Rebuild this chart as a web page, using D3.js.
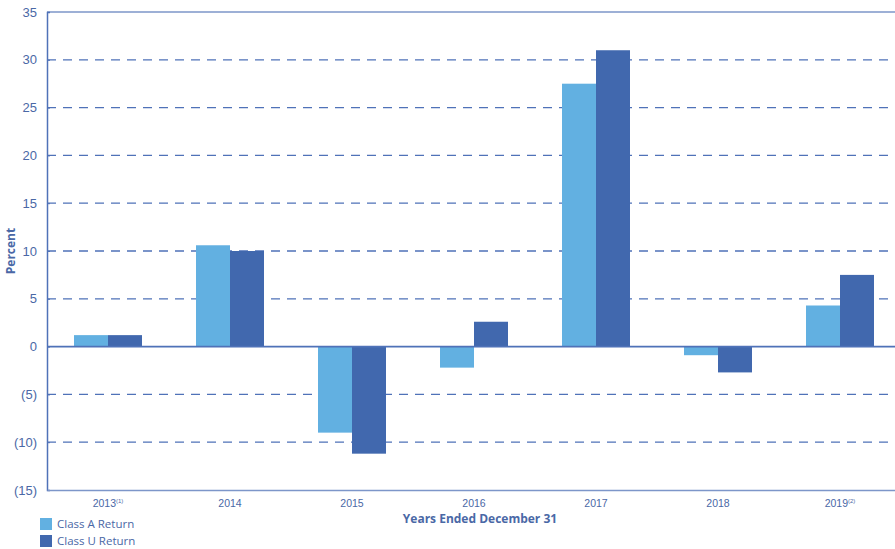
<!DOCTYPE html>
<html>
<head>
<meta charset="utf-8">
<script src="https://cdn.jsdelivr.net/npm/d3@7"></script>
<style>
  body { margin: 0; background: #fff; }
  svg { display: block; font-family: "Open Sans", "Noto Sans", sans-serif; }
</style>
</head>
<body>
<div id="chart"></div>
<script>
// annual returns by class
const years = ["2013", "2014", "2015", "2016", "2017", "2018", "2019"];
const yearNotes = ["(1)", "", "", "", "", "", "(2)"];
const classA = [1.2, 10.6, -9.0, -2.2, 27.5, -0.9, 4.3];
const classU = [1.2, 10.0, -11.2, 2.6, 31.0, -2.7, 7.5];
const seriesNames = ["Class A Return", "Class U Return"];
const yTicks = [35, 30, 25, 20, 15, 10, 5, 0, -5, -10, -15];

const colors = ["#62b0e1", "#4168ae"];
const axisColor = "#4f72b8";
const textColor = "#4a68a6";

const W = 895, H = 549;
const margin = { top: 12, right: -6, bottom: 59, left: 47 };
const width = W - margin.left - margin.right;
const height = H - margin.top - margin.bottom;

const svg = d3.select("#chart").append("svg")
    .attr("width", W)
    .attr("height", H);

const g = svg.append("g")
    .attr("transform", `translate(${margin.left},${margin.top})`);

const x = d3.scaleBand().domain(years).range([0, width]);
const y = d3.scaleLinear().domain([-15, 35]).range([height, 0]);

const barW = 34;

// dashed gridlines
g.append("g")
    .selectAll("line")
    .data(yTicks.filter(t => t !== 0 && t !== 35 && t !== -15))
    .join("line")
    .attr("x1", 0).attr("x2", width)
    .attr("y1", d => y(d)).attr("y2", d => y(d))
    .attr("stroke", axisColor)
    .attr("stroke-width", 1.3)
    .attr("stroke-dasharray", "9,7");

// top border
g.append("line")
    .attr("x1", 0).attr("x2", width)
    .attr("y1", y(35)).attr("y2", y(35))
    .attr("stroke", "#7d96c9").attr("stroke-width", 1.5);

// bars
const rows = years.map((yr, i) => ({ year: yr, vals: [classA[i], classU[i]] }));
const groups = g.append("g").selectAll("g")
    .data(rows)
    .join("g")
    .attr("transform", d => `translate(${x(d.year) + x.bandwidth() / 2 - barW},0)`);

groups.selectAll("rect")
    .data(d => d.vals.map((v, k) => ({ v, k })))
    .join("rect")
    .attr("x", d => d.k * barW)
    .attr("width", barW)
    .attr("y", d => y(Math.max(0, d.v)))
    .attr("height", d => Math.abs(y(d.v) - y(0)))
    .attr("fill", d => colors[d.k]);

// zero line
g.append("line")
    .attr("x1", 0).attr("x2", width)
    .attr("y1", y(0)).attr("y2", y(0))
    .attr("stroke", axisColor).attr("stroke-width", 1.6);

// y axis
const yAxis = g.append("g")
    .call(d3.axisLeft(y).tickValues(yTicks).tickSize(-3).tickPadding(10)
        .tickFormat(d => d < 0 ? `(${-d})` : `${d}`));
yAxis.select(".domain").attr("stroke", axisColor).attr("stroke-width", 1.5);
yAxis.selectAll(".tick line").attr("stroke", axisColor);
yAxis.selectAll("text")
    .attr("fill", textColor)
    .style("font-size", "13px");

// x axis
const xAxis = g.append("g")
    .attr("transform", `translate(0,${height})`)
    .call(d3.axisBottom(x).tickSize(0).tickPadding(10));
xAxis.select(".domain").attr("stroke", "#7d96c9").attr("stroke-width", 1.5);
xAxis.selectAll(".tick text")
    .attr("fill", textColor)
    .style("font-size", "10.5px")
    .each(function (d, i) {
        if (yearNotes[i]) {
            const t = d3.select(this);
            t.text(null);
            t.append("tspan").text(d);
            t.append("tspan")
                .attr("dy", "-4")
                .style("font-size", "6px")
                .text(yearNotes[i]);
        }
    });

// axis titles
svg.append("text")
    .attr("transform", `translate(15,${margin.top + y(10)}) rotate(-90)`)
    .attr("text-anchor", "middle")
    .attr("fill", textColor)
    .style("font-size", "12px")
    .style("font-weight", "bold")
    .text("Percent");

svg.append("text")
    .attr("x", 480)
    .attr("y", 523)
    .attr("text-anchor", "middle")
    .attr("fill", textColor)
    .style("font-size", "12px")
    .style("font-weight", "bold")
    .text("Years Ended December 31");

// legend
const legend = svg.append("g").attr("transform", "translate(40,518)");
seriesNames.forEach((name, i) => {
    const row = legend.append("g").attr("transform", `translate(0,${i * 17})`);
    row.append("rect")
        .attr("width", 12).attr("height", 12)
        .attr("fill", colors[i]);
    row.append("text")
        .attr("x", 17).attr("y", 10)
        .attr("fill", textColor)
        .style("font-size", "11.5px")
        .text(name);
});
</script>
</body>
</html>
